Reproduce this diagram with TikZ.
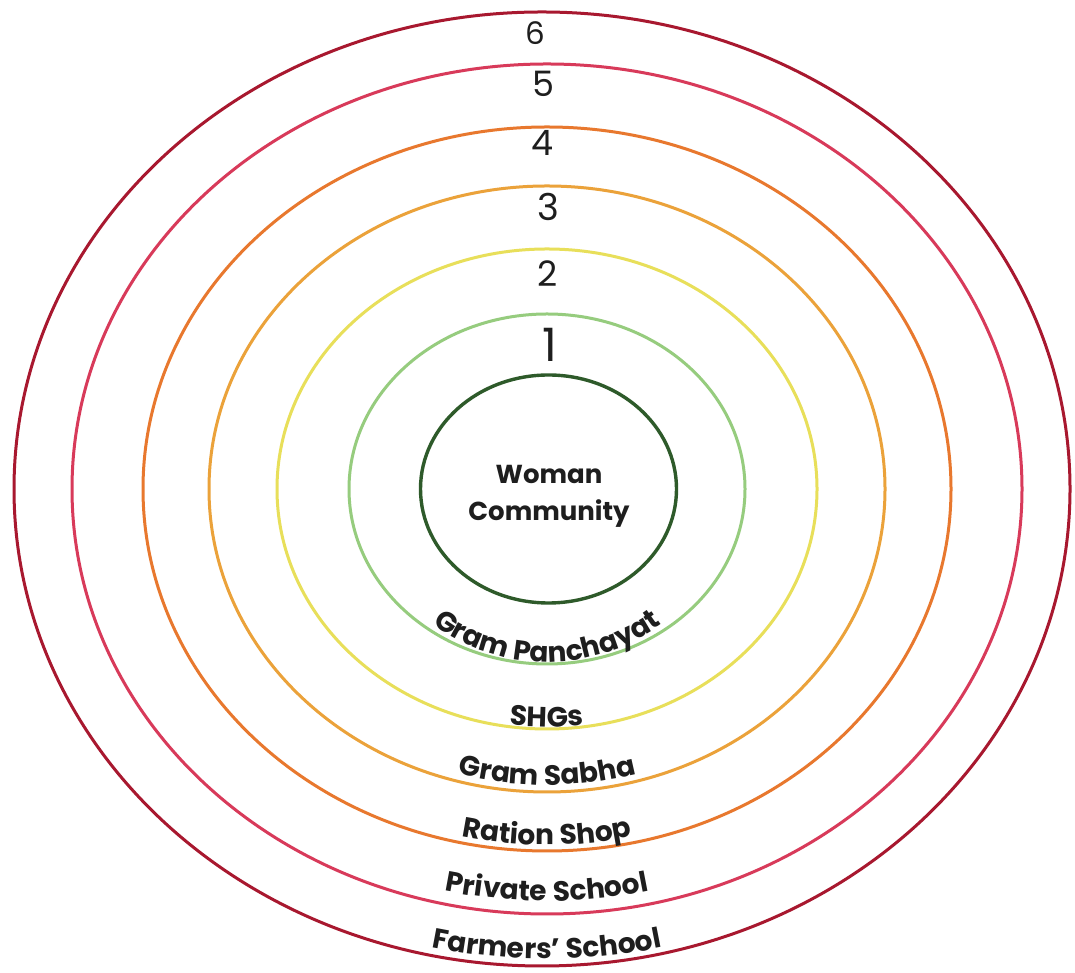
\documentclass[tikz,border=0pt]{standalone}
\usepackage{fontspec}
\setmainfont{Poppins}
\usetikzlibrary{decorations.text}
\definecolor{cInner}{HTML}{2E5A2A}
\definecolor{cR1}{HTML}{96CC7E}
\definecolor{cR2}{HTML}{E8DF5A}
\definecolor{cR3}{HTML}{EBA23A}
\definecolor{cR4}{HTML}{E8782E}
\definecolor{cR5}{HTML}{D83A5A}
\definecolor{cR6}{HTML}{A8182F}
\definecolor{ink}{HTML}{1E1E1E}
\newcommand{\lblfont}{\bfseries\fontsize{28}{28}\selectfont}
\tikzset{
  ring/.style={line width=3pt},
  numlbl/.style={font=\fontsize{#1}{#1}\selectfont, text=ink, inner sep=0pt},
  arclbl/.style={decorate, decoration={text along path, text align=center,
      text={|\lblfont\color{ink}|#1}}},
}
\begin{document}
\begin{tikzpicture}[x=1pt,y=1pt]
\useasboundingbox (0,0) rectangle (1075,973);
\fill[white] (0,0) rectangle (1075,973);
\coordinate (C) at (547,484);
% rings
\draw[ring, cR6] (542,484) ellipse [x radius=528, y radius=477];
\draw[ring, cR5] (C) ellipse [x radius=475, y radius=425];
\draw[ring, cR4] (C) ellipse [x radius=404, y radius=362];
\draw[ring, cR3] (C) ellipse [x radius=338, y radius=303];
\draw[ring, cR2] (C) ellipse [x radius=270, y radius=240];
\draw[ring, cR1] (C) ellipse [x radius=198, y radius=175];
\draw[line width=3.4pt, cInner] (548.5,484) ellipse [x radius=128, y radius=114];
% centre text
\node[name=core, align=center, text=ink, font=\bfseries\fontsize{26}{37}\selectfont] at (549,477) {Woman\\Community};
% numbers
\node[name=n6, numlbl=31] at (535,940) {6};
\node[name=n5, numlbl=35] at (543,889) {5};
\node[name=n4, numlbl=35] at (542,830) {4};
\node[name=n3, numlbl=37] at (548,766) {3};
\node[name=n2, numlbl=35] at (548,699) {2};
\node[name=n1, numlbl=46] at (550,628) {1};
% curved labels
\path[arclbl={Gram Panchayat}] (C) ++(190:183 and 173) arc[start angle=190, end angle=350, x radius=183, y radius=173];
\path[arclbl={SHGs}] (C) ++(220:266 and 238) arc[start angle=220, end angle=320, x radius=266, y radius=238];
\path[arclbl={Gram Sabha}] (C) ++(215:329 and 296) arc[start angle=215, end angle=325, x radius=329, y radius=296];
\path[arclbl={Ration Shop}] (C) ++(220:396 and 356) arc[start angle=220, end angle=320, x radius=396, y radius=356];
\path[arclbl={Private School}] (C) ++(225:462 and 412) arc[start angle=225, end angle=315, x radius=462, y radius=412];
\path[arclbl={Farmers’ School}] (C) ++(230:523 and 470) arc[start angle=230, end angle=310, x radius=523, y radius=470];
\end{tikzpicture}
\end{document}
